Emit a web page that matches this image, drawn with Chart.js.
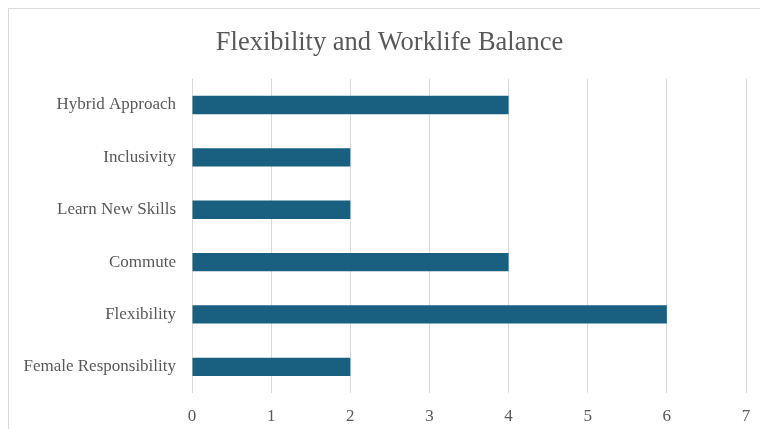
<!DOCTYPE html>
<html>
<head>
<meta charset="utf-8">
<script src="https://cdn.jsdelivr.net/npm/chart.js@4/dist/chart.umd.min.js"></script>
<style>
html,body{margin:0;padding:0;background:#fff;overflow:hidden;width:760px;height:429px}
.frame{position:absolute;left:8px;top:8px;width:763px;height:442px;border:1px solid #d9d9d9;box-sizing:border-box;background:#fff}
.frame canvas{position:absolute;left:0;top:0}
</style>
</head>
<body>
<div class="frame"><canvas id="chart" width="761" height="440"></canvas></div>
<script>
// data, top to bottom
const categories = ['Hybrid Approach', 'Inclusivity', 'Learn New Skills', 'Commute', 'Flexibility', 'Female Responsibility'];
const values = [4, 2, 2, 4, 6, 2];
const xTicks = [0, 1, 2, 3, 4, 5, 6, 7];

const ink = '#595959';
const grid = '#d9d9d9';
const serif = "'Liberation Serif','Times New Roman',serif";

new Chart(document.getElementById('chart'), {
  type: 'bar',
  data: {
    labels: categories,
    datasets: [{
      data: values,
      backgroundColor: '#185f80',
      borderWidth: 0,
      categoryPercentage: 1,
      barPercentage: 0.35
    }]
  },
  options: {
    indexAxis: 'y',
    responsive: false,
    animation: false,
    layout: { padding: 0 },
    plugins: {
      legend: { display: false },
      tooltip: { enabled: false },
      title: {
        display: true,
        text: 'Flexibility and Worklife Balance',
        color: ink,
        font: { family: serif, size: 26.5, weight: 'normal' },
        padding: { top: 18, bottom: 20 }
      }
    },
    scales: {
      x: {
        min: xTicks[0],
        max: xTicks[xTicks.length - 1],
        afterBuildTicks: axis => { axis.ticks = xTicks.map(v => ({ value: v })); },
        afterFit: axis => { axis.height = 56; },
        grid: { color: grid, lineWidth: 1, drawTicks: false },
        border: { display: false },
        ticks: { color: ink, padding: 13, font: { family: serif, size: 17 } }
      },
      y: {
        afterFit: axis => { axis.width = 183; },
        grid: { display: false, drawTicks: false },
        border: { display: false },
        ticks: { color: ink, padding: 16, font: { family: serif, size: 17 } }
      },
      // empty right-hand strip so the plot ends where the reference does
      gutter: {
        type: 'category',
        position: 'right',
        labels: categories,
        afterFit: axis => { axis.width = 24; },
        grid: { display: false, drawTicks: false },
        border: { display: false },
        ticks: { display: false }
      }
    }
  }
});
</script>
</body>
</html>
